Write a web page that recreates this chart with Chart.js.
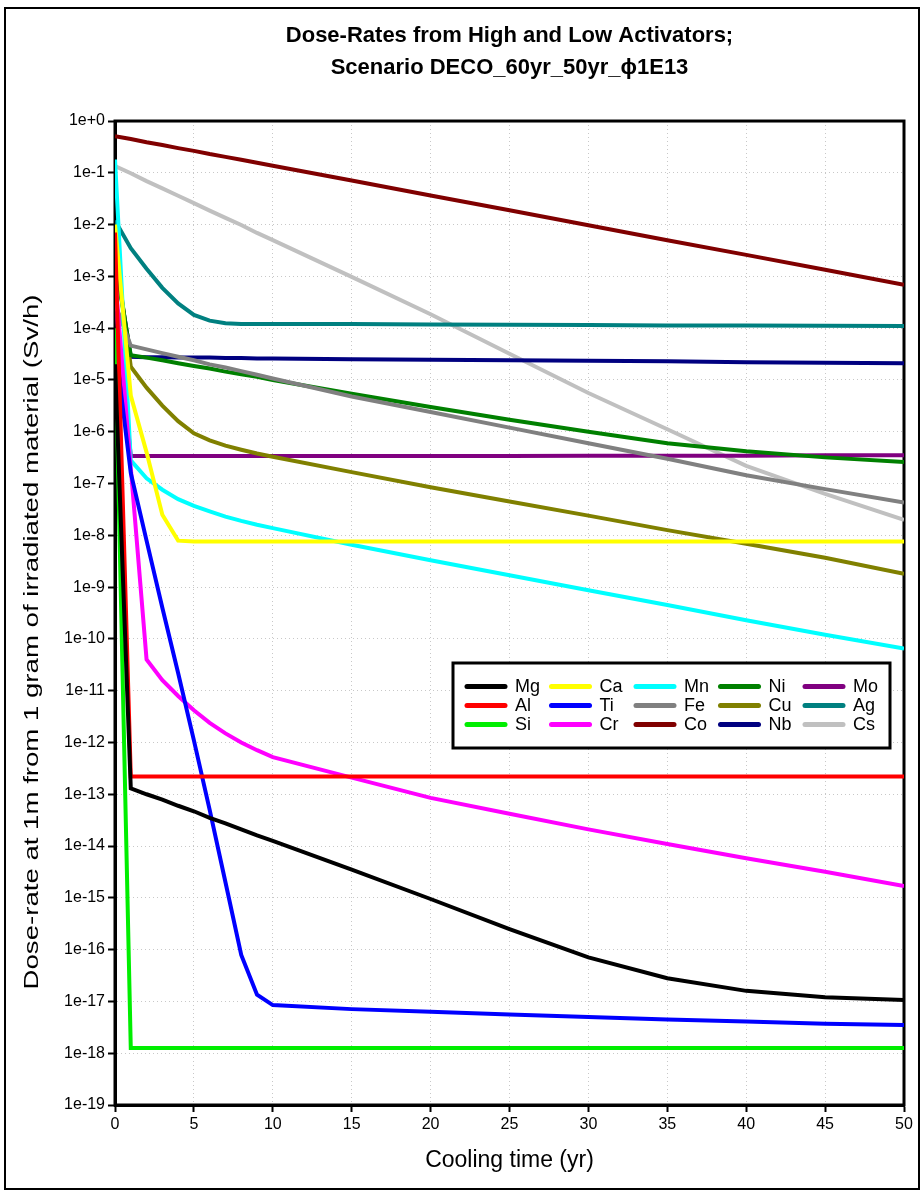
<!DOCTYPE html>
<html>
<head>
<meta charset="utf-8">
<script src="https://cdn.jsdelivr.net/npm/chart.js@4.4.1/dist/chart.umd.min.js"></script>
<style>
  html, body { margin: 0; padding: 0; background: #fff; }
  #wrap { width: 924px; height: 1194px; }
</style>
</head>
<body>
<div id="wrap"><canvas id="doseChart" width="924" height="1194"></canvas></div>
<script>
// cooling time points (yr)
const years = [0, 1, 2, 3, 4, 5, 6, 7, 8, 9, 10, 15, 20, 25, 30, 35, 40, 45, 50];

// dose-rate values (Sv/h)
const mg = [2e-5, 1.3e-13, 1.0e-13, 7.9e-14, 6.0e-14, 4.7e-14, 3.5e-14, 2.75e-14, 2.1e-14, 1.6e-14, 1.26e-14, 3.5e-15, 9.5e-16, 2.5e-16, 7.1e-17, 2.8e-17, 1.6e-17, 1.2e-17, 1.07e-17];
const al = [7e-3, 2.2e-13, 2.2e-13, 2.2e-13, 2.2e-13, 2.2e-13, 2.2e-13, 2.2e-13, 2.2e-13, 2.2e-13, 2.2e-13, 2.2e-13, 2.2e-13, 2.2e-13, 2.2e-13, 2.2e-13, 2.2e-13, 2.2e-13, 2.2e-13];
const si = [1e-4, 1.26e-18, 1.26e-18, 1.26e-18, 1.26e-18, 1.26e-18, 1.26e-18, 1.26e-18, 1.26e-18, 1.26e-18, 1.26e-18, 1.26e-18, 1.26e-18, 1.26e-18, 1.26e-18, 1.26e-18, 1.26e-18, 1.26e-18, 1.26e-18];
const ca = [1e-2, 5e-6, 4e-7, 2.5e-8, 7.9e-9, 7.6e-9, 7.6e-9, 7.6e-9, 7.6e-9, 7.6e-9, 7.6e-9, 7.6e-9, 7.6e-9, 7.6e-9, 7.6e-9, 7.6e-9, 7.6e-9, 7.6e-9, 7.6e-9];
const ti = [5e-5, 1.6e-7, 7.9e-9, 4e-10, 2.2e-11, 1.1e-12, 5e-14, 2e-15, 7.9e-17, 1.35e-17, 8.5e-18, 7.1e-18, 6.3e-18, 5.6e-18, 5.0e-18, 4.5e-18, 4.1e-18, 3.7e-18, 3.5e-18];
const cr = [1e-3, 2e-7, 4e-11, 1.6e-11, 7.9e-12, 4.2e-12, 2.4e-12, 1.5e-12, 1e-12, 7.1e-13, 5.2e-13, 2.1e-13, 8.5e-14, 4.2e-14, 2.1e-14, 1.1e-14, 5.8e-15, 3.2e-15, 1.7e-15];
const mn = [1.8e-1, 2.8e-7, 1.26e-7, 7.6e-8, 5e-8, 3.7e-8, 2.9e-8, 2.3e-8, 1.9e-8, 1.6e-8, 1.38e-8, 6.6e-9, 3.3e-9, 1.7e-9, 8.7e-10, 4.5e-10, 2.3e-10, 1.2e-10, 6.5e-11];
const fe = [3e-4, 4.6e-5, 3.9e-5, 3.3e-5, 2.8e-5, 2.4e-5, 2.0e-5, 1.74e-5, 1.48e-5, 1.26e-5, 1.07e-5, 4.8e-6, 2.4e-6, 1.2e-6, 6.0e-7, 3.0e-7, 1.45e-7, 7.8e-8, 4.3e-8];
const co = [5.1e-1, 4.5e-1, 3.9e-1, 3.45e-1, 3.0e-1, 2.65e-1, 2.3e-1, 2.03e-1, 1.78e-1, 1.56e-1, 1.37e-1, 7.1e-2, 3.65e-2, 1.9e-2, 9.7e-3, 5.0e-3, 2.6e-3, 1.34e-3, 6.9e-4];
const ni = [2e-3, 3e-5, 2.7e-5, 2.4e-5, 2.1e-5, 1.86e-5, 1.66e-5, 1.45e-5, 1.29e-5, 1.15e-5, 1e-5, 5.4e-6, 3.0e-6, 1.7e-6, 1e-6, 6.0e-7, 4.2e-7, 3.2e-7, 2.6e-7];
const cu = [4e-3, 1.8e-5, 7.1e-6, 3.2e-6, 1.6e-6, 9.3e-7, 6.8e-7, 5.4e-7, 4.5e-7, 3.8e-7, 3.3e-7, 1.66e-7, 8.5e-8, 4.5e-8, 2.4e-8, 1.26e-8, 6.9e-9, 3.7e-9, 1.8e-9];
const nb = [2.4e-3, 2.8e-5, 2.75e-5, 2.75e-5, 2.7e-5, 2.7e-5, 2.7e-5, 2.65e-5, 2.65e-5, 2.6e-5, 2.6e-5, 2.5e-5, 2.45e-5, 2.4e-5, 2.35e-5, 2.3e-5, 2.2e-5, 2.15e-5, 2.1e-5];
const mo = [3.5e-4, 3.4e-7, 3.4e-7, 3.4e-7, 3.4e-7, 3.4e-7, 3.4e-7, 3.4e-7, 3.4e-7, 3.4e-7, 3.4e-7, 3.4e-7, 3.4e-7, 3.4e-7, 3.45e-7, 3.45e-7, 3.45e-7, 3.5e-7, 3.5e-7];
const ag = [1.2e-2, 3.5e-3, 1.4e-3, 6e-4, 3e-4, 1.8e-4, 1.4e-4, 1.25e-4, 1.2e-4, 1.2e-4, 1.2e-4, 1.2e-4, 1.18e-4, 1.16e-4, 1.15e-4, 1.13e-4, 1.12e-4, 1.11e-4, 1.1e-4];
const cs = [1.35e-1, 9.8e-2, 6.9e-2, 5.0e-2, 3.6e-2, 2.6e-2, 1.86e-2, 1.35e-2, 9.8e-3, 6.9e-3, 5.0e-3, 9.8e-4, 1.86e-4, 3.2e-5, 5.6e-6, 1.12e-6, 2.2e-7, 6.3e-8, 2.0e-8];

const elements = ['Mg', 'Al', 'Si', 'Ca', 'Ti', 'Cr', 'Mn', 'Fe', 'Co', 'Ni', 'Cu', 'Nb', 'Mo', 'Ag', 'Cs'];
const seriesValues = [mg, al, si, ca, ti, cr, mn, fe, co, ni, cu, nb, mo, ag, cs];
const colors = ['#000000', '#ff0000', '#00ee00', '#ffff00', '#0000ff', '#ff00ff', '#00ffff', '#808080',
                '#800000', '#008000', '#808000', '#000080', '#800080', '#008080', '#c0c0c0'];

// y tick labels, one per decade
const yExponents = [0, -1, -2, -3, -4, -5, -6, -7, -8, -9, -10, -11, -12, -13, -14, -15, -16, -17, -18, -19];
const xTicks = [0, 5, 10, 15, 20, 25, 30, 35, 40, 45, 50];

const FONT = '"Liberation Sans", Arial, sans-serif';
const Y_TITLE = 'Dose-rate at 1m from 1 gram of irradiated material (Sv/h)';

const datasets = elements.map((name, i) => ({
    label: name,
    data: years.map((t, j) => ({ x: t, y: seriesValues[i][j] })),
    borderColor: colors[i],
    backgroundColor: colors[i],
    borderWidth: 4,
    pointRadius: 0,
    tension: 0,
    fill: false
}));

// white page + thin outer frame
const pageFrame = {
    id: 'pageFrame',
    beforeDraw(chart) {
        const ctx = chart.ctx;
        ctx.save();
        ctx.fillStyle = '#fff';
        ctx.fillRect(0, 0, chart.width, chart.height);
        ctx.strokeStyle = '#000';
        ctx.lineWidth = 2;
        ctx.strokeRect(5, 8, 914, 1181);
        ctx.restore();
    }
};

// thick box round the plot
const plotFrame = {
    id: 'plotFrame',
    beforeDatasetsDraw(chart) {
        const { ctx, chartArea: a } = chart;
        ctx.save();
        ctx.strokeStyle = '#000';
        ctx.lineWidth = 3;
        ctx.strokeRect(a.left, a.top, a.right - a.left, a.bottom - a.top);
        ctx.restore();
    }
};

// y axis title, drawn long and narrow like the original
const yTitle = {
    id: 'yTitle',
    afterDraw(chart) {
        const ctx = chart.ctx;
        ctx.save();
        ctx.translate(32, 642);
        ctx.rotate(-Math.PI / 2);
        ctx.scale(1.38, 1);
        ctx.font = '20px ' + FONT;
        ctx.fillStyle = '#000';
        ctx.textAlign = 'center';
        ctx.textBaseline = 'middle';
        ctx.fillText(Y_TITLE, 0, 0);
        ctx.restore();
    }
};

// legend in 5 columns x 3 rows, filled column by column
const gridLegend = {
    id: 'gridLegend',
    afterDatasetsDraw(chart) {
        const ctx = chart.ctx;
        const box = { x: 453, y: 663, w: 437, h: 85 };
        ctx.save();
        ctx.fillStyle = '#fff';
        ctx.fillRect(box.x, box.y, box.w, box.h);
        ctx.strokeStyle = '#000';
        ctx.lineWidth = 3;
        ctx.strokeRect(box.x, box.y, box.w, box.h);
        ctx.font = '18px ' + FONT;
        ctx.textBaseline = 'middle';
        chart.data.datasets.forEach((ds, i) => {
            const col = Math.floor(i / 3), row = i % 3;
            const x = box.x + 12 + col * 84.5;
            const y = box.y + 23.5 + row * 19;
            ctx.strokeStyle = ds.borderColor;
            ctx.lineWidth = 5;
            ctx.lineCap = 'round';
            ctx.beginPath();
            ctx.moveTo(x + 2, y);
            ctx.lineTo(x + 40, y);
            ctx.stroke();
            ctx.fillStyle = '#000';
            ctx.fillText(ds.label, x + 50, y + 1);
        });
        ctx.restore();
    }
};

new Chart(document.getElementById('doseChart'), {
    type: 'line',
    data: { datasets: datasets },
    plugins: [pageFrame, plotFrame, gridLegend, yTitle],
    options: {
        responsive: false,
        animation: false,
        devicePixelRatio: 1,
        layout: { padding: { left: 0, right: 20, top: 0, bottom: 0 } },
        plugins: {
            legend: { display: false },
            tooltip: { enabled: false },
            title: {
                display: true,
                fullSize: false,
                text: ['Dose-Rates from High and Low Activators;', 'Scenario DECO_60yr_50yr_\u03d51E13'],
                color: '#000',
                font: { family: FONT, size: 22, weight: 'bold', lineHeight: 1.455 },
                padding: { top: 20, bottom: 37 }
            }
        },
        scales: {
            x: {
                type: 'linear',
                min: 0,
                max: 50,
                afterFit(scale) { scale.height = 89; },
                afterBuildTicks(scale) { scale.ticks = xTicks.map(v => ({ value: v })); },
                ticks: { color: '#000', font: { family: FONT, size: 16 }, padding: 3, maxRotation: 0 },
                grid: { color: '#c8c8c8', lineWidth: 1, tickColor: '#000', tickWidth: 2, tickLength: 7 },
                border: { display: true, color: '#000', width: 3, dash: [1, 3] },
                title: {
                    display: true,
                    text: 'Cooling time (yr)',
                    color: '#000',
                    font: { family: FONT, size: 23 },
                    padding: { top: 0, bottom: 20 }
                }
            },
            y: {
                type: 'logarithmic',
                min: 1e-19,
                max: 1,
                afterFit(scale) { scale.width = 115; },
                afterBuildTicks(scale) { scale.ticks = yExponents.map(e => ({ value: Number('1e' + e) })); },
                ticks: {
                    color: '#000',
                    font: { family: FONT, size: 16 },
                    padding: 3,
                    autoSkip: false,
                    callback(value) {
                        const e = Math.round(Math.log10(value));
                        return e === 0 ? '1e+0' : '1e' + e;
                    }
                },
                grid: { color: '#c8c8c8', lineWidth: 1, tickColor: '#000', tickWidth: 2, tickLength: 7 },
                border: { display: true, color: '#000', width: 3, dash: [1, 3] }
            }
        }
    }
});
</script>
</body>
</html>
